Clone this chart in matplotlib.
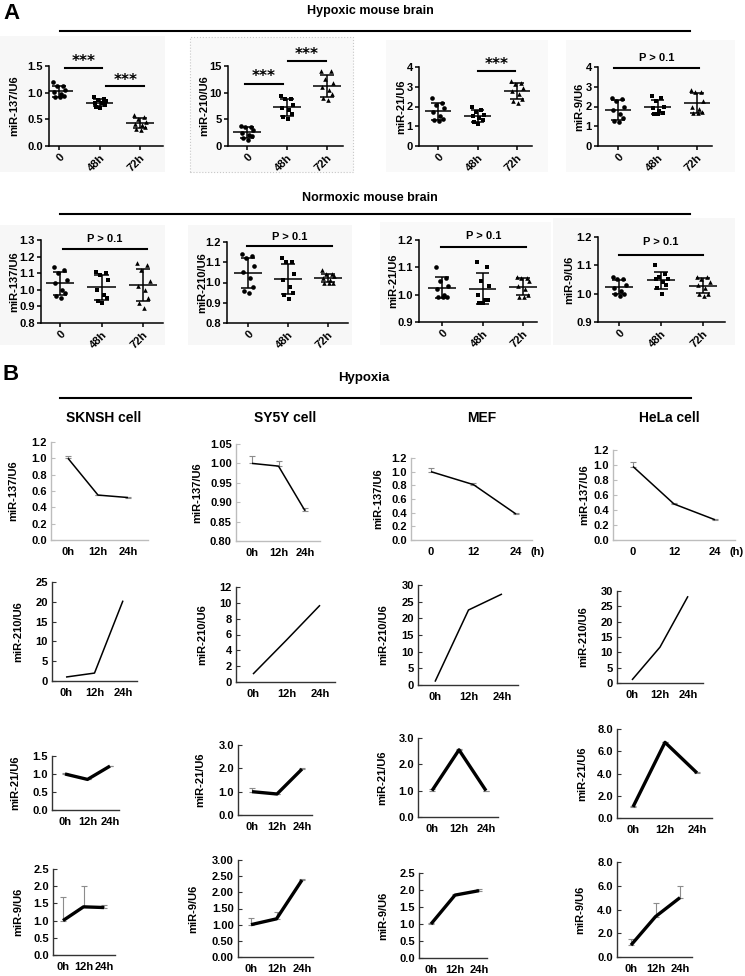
import numpy as np
import matplotlib
matplotlib.use('Agg')
import matplotlib.pyplot as plt
from matplotlib.patches import Rectangle
from matplotlib.lines import Line2D

plt.rcParams['font.family'] = ['Liberation Sans', 'DejaVu Sans']
plt.rcParams['font.weight'] = 'bold'
plt.rcParams['axes.labelweight'] = 'bold'

# ---------------- data ----------------
groups_A = ['0', '48h', '72h']
times_B = ['0h', '12h', '24h']
times_B_num = ['0', '12', '24']

# Panel A: hypoxic mouse brain (individual animals)
hyp_137 = [[1.20, 1.13, 1.12, 1.05, 1.02, 0.97, 0.93, 0.92, 0.91],
           [0.91, 0.89, 0.87, 0.84, 0.81, 0.80, 0.77, 0.74, 0.71],
           [0.58, 0.55, 0.50, 0.45, 0.42, 0.40, 0.35, 0.32, 0.30]]
hyp_210 = [[3.8, 3.6, 3.5, 3.0, 2.5, 2.0, 1.8, 1.5, 1.2],
           [9.4, 8.9, 8.8, 7.6, 7.2, 6.8, 6.0, 5.5, 5.0],
           [14.1, 14.0, 12.5, 11.8, 11.0, 10.5, 9.8, 9.0, 8.6]]
hyp_21 = [[2.45, 2.2, 2.1, 1.9, 1.7, 1.5, 1.35, 1.3, 1.25],
          [2.0, 1.8, 1.7, 1.55, 1.5, 1.4, 1.3, 1.2, 1.1],
          [3.3, 3.2, 3.15, 2.95, 2.8, 2.65, 2.4, 2.3, 2.2]]
hyp_9 = [[2.45, 2.4, 2.3, 2.0, 1.8, 1.6, 1.4, 1.25, 1.2],
         [2.55, 2.45, 2.3, 2.0, 1.9, 1.75, 1.65, 1.6, 1.6],
         [2.85, 2.75, 2.75, 2.3, 2.0, 1.85, 1.7, 1.65, 1.65]]

# Panel A: normoxic mouse brain
nor_137 = [[1.14, 1.12, 1.10, 1.06, 1.04, 1.00, 0.98, 0.96, 0.95],
           [1.11, 1.10, 1.09, 1.06, 1.00, 0.97, 0.95, 0.93, 0.92],
           [1.16, 1.15, 1.12, 1.05, 1.02, 1.00, 0.95, 0.92, 0.89]]
nor_210 = [[1.14, 1.13, 1.12, 1.08, 1.05, 1.02, 0.98, 0.96, 0.95],
           [1.12, 1.10, 1.10, 1.04, 1.01, 0.98, 0.95, 0.94, 0.92],
           [1.06, 1.04, 1.04, 1.03, 1.02, 1.01, 1.00, 1.00, 1.00]]
nor_21 = [[1.10, 1.06, 1.05, 1.03, 1.02, 1.00, 0.99, 0.99, 0.99],
          [1.12, 1.10, 1.05, 1.03, 1.00, 0.98, 0.98, 0.97, 0.97],
          [1.065, 1.06, 1.06, 1.05, 1.03, 1.02, 1.00, 0.99, 0.99]]
nor_9 = [[1.06, 1.05, 1.05, 1.03, 1.02, 1.01, 1.00, 1.00, 0.99],
         [1.10, 1.07, 1.06, 1.05, 1.05, 1.04, 1.03, 1.02, 1.00],
         [1.06, 1.06, 1.05, 1.04, 1.03, 1.02, 1.00, 1.00, 0.99]]

# Panel B: cell lines (mean, upper error)
sknsh_137 = [1.00, 0.55, 0.52]
sknsh_137_err = [0.03, 0.0, 0.01]
sy5y_137 = [1.000, 0.993, 0.878]
sy5y_137_err = [0.02, 0.012, 0.008]
mef_137 = [1.00, 0.81, 0.38]
mef_137_err = [0.05, 0.03, 0.01]
hela_137 = [0.98, 0.48, 0.27]
hela_137_err = [0.06, 0.02, 0.01]

sknsh_210 = [1.0, 2.0, 20.3]
sy5y_210 = [1.0, 5.3, 9.7]
mef_210 = [1.0, 22.5, 27.3]
hela_210 = [1.0, 11.7, 28.3]
zero_err = [0.0, 0.0, 0.0]

sknsh_21 = [1.0, 0.85, 1.22]
sknsh_21_err = [0.04, 0.0, 0.0]
sy5y_21 = [1.0, 0.9, 1.97]
sy5y_21_err = [0.17, 0.0, 0.03]
mef_21 = [1.0, 2.55, 1.0]
mef_21_err = [0.05, 0.05, 0.0]
hela_21 = [1.0, 6.8, 4.05]
hela_21_err = [0.1, 0.05, 0.05]

sknsh_9 = [1.0, 1.4, 1.38]
sknsh_9_err = [0.7, 0.6, 0.08]
sy5y_9 = [1.0, 1.18, 2.38]
sy5y_9_err = [0.2, 0.22, 0.03]
mef_9 = [1.0, 1.85, 1.98]
mef_9_err = [0.02, 0.03, 0.04]
hela_9 = [1.0, 3.4, 5.0]
hela_9_err = [0.5, 1.15, 1.0]

# ---------------- layout helpers ----------------
W, H = 745, 976
fig = plt.figure(figsize=(W / 100, H / 100), dpi=100)
fig.patch.set_facecolor('white')

JIT = [-0.14, 0.10, -0.04, 0.16, -0.12, 0.05, 0.13, -0.09, 0.02]


def add_ax(left, right, top, bottom):
    ax = fig.add_axes([left / W, 1 - bottom / H, (right - left) / W, (bottom - top) / H])
    ax.set_facecolor('none')
    return ax


def ftext(x, y, s, **kw):
    fig.text(x / W, 1 - y / H, s, **kw)


def fline(x1, x2, y, lw=1.5):
    fig.add_artist(Line2D([x1 / W, x2 / W], [1 - y / H, 1 - y / H],
                          transform=fig.transFigure, color='black', lw=lw))


def frect(x1, y1, x2, y2, fc='#f7f7f7', ec='none', ls='-'):
    fig.add_artist(Rectangle((x1 / W, 1 - y2 / H), (x2 - x1) / W, (y2 - y1) / H,
                             transform=fig.transFigure, facecolor=fc, edgecolor=ec,
                             linestyle=ls, lw=0.8, zorder=-5))


def scatter_panel(box, x0, dx, data, ylim, yticks, yfmt, ylabel, ylab_x, sigs):
    left, right, top, bottom = box
    ax = add_ax(left, right, top, bottom)
    ax.set_xlim((left - x0) / dx, (right - x0) / dx)
    ax.set_ylim(*ylim)

    def py(yp):
        return ylim[0] + (bottom - yp) / (bottom - top) * (ylim[1] - ylim[0])

    markers = ['o', 's', '^']
    for i, vals in enumerate(data):
        v = np.array(vals)
        xs = i + np.array(JIT[:len(v)])
        ax.scatter(xs, v, marker=markers[i], s=11, color='black', zorder=3,
                   linewidths=0, clip_on=False)
        m, sd = v.mean(), v.std(ddof=1)
        ax.hlines(m, i - 0.34, i + 0.34, color='black', lw=1.1, zorder=4)
        ax.vlines(i, m - sd, m + sd, color='black', lw=1.1, zorder=4)
        ax.hlines([m - sd, m + sd], i - 0.17, i + 0.17, color='black', lw=1.1, zorder=4)
    ax.set_xticks(range(3))
    ax.set_xticklabels(groups_A, rotation=45, ha='right', rotation_mode='anchor',
                       fontsize=8, fontweight='bold')
    ax.set_yticks(yticks)
    ax.set_yticklabels([yfmt.format(t) for t in yticks], fontsize=8, fontweight='bold')
    for s in ['top', 'right']:
        ax.spines[s].set_visible(False)
    for s in ['left', 'bottom']:
        ax.spines[s].set_linewidth(1.1)
    ax.tick_params(direction='out', length=3, width=1.1, pad=1.5)
    ftext(ylab_x, (top + bottom) / 2, ylabel, rotation=90, ha='center', va='center',
          fontsize=8, fontweight='bold')
    for (xa, xb, yl, lab, yt) in sigs:
        ax.plot([xa, xb], [py(yl), py(yl)], color='black', lw=1.5, clip_on=False)
        if lab == '***':
            ax.text((xa + xb) / 2, py(yt + 6), lab, ha='center', va='baseline',
                    fontsize=11, family=['DejaVu Sans'], fontweight='bold')
        else:
            ax.text((xa + xb) / 2, py(yt + 4), lab, ha='center', va='baseline',
                    fontsize=8, fontweight='bold')
    return ax


def line_panel(box, x0, dx, vals, errs, ylim, yticks, yfmt, xlabels, ylabel, ylab_x,
               lw=1.1, axcolor='#333333', hunit=None):
    left, right, top, bottom = box
    ax = add_ax(left, right, top, bottom)
    ax.set_xlim((left - x0) / dx, (right - x0) / dx)
    ax.set_ylim(*ylim)
    x = np.arange(len(vals))
    e = np.array(errs)
    if e.max() > 0:
        ax.errorbar(x, vals, yerr=[np.zeros_like(e), e], fmt='none', ecolor='#8c8c8c',
                    elinewidth=0.8, capsize=2.2, capthick=0.8, zorder=2, clip_on=False)
    ax.plot(x, vals, color='black', lw=lw, zorder=3, clip_on=False, solid_capstyle='butt')
    ax.set_xticks(x)
    ax.set_xticklabels(xlabels, fontsize=8, fontweight='bold')
    ax.set_yticks(yticks)
    ax.set_yticklabels([yfmt.format(t) for t in yticks], fontsize=8, fontweight='bold')
    for s in ['top', 'right']:
        ax.spines[s].set_visible(False)
    for s in ['left', 'bottom']:
        ax.spines[s].set_linewidth(1.0)
        ax.spines[s].set_color(axcolor)
    ax.tick_params(axis='x', length=0, pad=5)
    ax.tick_params(axis='y', direction='in', length=3, width=0.8, color=axcolor, pad=3)
    ftext(ylab_x, (top + bottom) / 2, ylabel, rotation=90, ha='center', va='center',
          fontsize=8, fontweight='bold')
    if hunit:
        ftext(hunit, bottom + 12, '(h)', ha='center', va='center', fontsize=8,
              fontweight='bold')
    return ax


# ---------------- backgrounds ----------------
frect(0, 36, 165, 172)
frect(190, 37, 353, 172, fc='#f9f9f9', ec='#c8c8c8', ls=':')
frect(386, 40, 548, 172, fc='#f9f9f9')
frect(566, 40, 735, 172, fc='#f9f9f9')
frect(0, 225, 165, 345)
frect(188, 225, 352, 345)
frect(380, 222, 551, 345, fc='#f9f9f9')
frect(553, 218, 735, 345)

# ---------------- Panel A ----------------
ftext(3, 3, 'A', fontsize=16, fontweight='bold', va='top', ha='left')
ftext(370, 11, 'Hypoxic mouse brain', fontsize=9, fontweight='bold', ha='center', va='center')
fline(60, 690, 31)

scatter_panel((49, 163, 66, 146), 59, 40.5, hyp_137, (0, 1.5), [0, 0.5, 1.0, 1.5], '{:.1f}',
              'miR-137/U6', 14, [(0.15, 1.07, 68, '***', 60), (1.17, 2.1, 86, '***', 79)])
scatter_panel((228, 343, 66, 146), 247, 40, hyp_210, (0, 15), [0, 5, 10, 15], '{:.0f}',
              'miR-210/U6', 204, [(-0.05, 0.9, 84, '***', 75), (1.02, 1.97, 61, '***', 53)])
scatter_panel((419, 532, 67, 146), 438, 39.5, hyp_21, (0, 4), [0, 1, 2, 3, 4], '{:.0f}',
              'miR-21/U6', 401, [(1.0, 1.95, 71, '***', 63)])
scatter_panel((598, 712, 67, 146), 618, 39.5, hyp_9, (0, 4), [0, 1, 2, 3, 4], '{:.0f}',
              'miR-9/U6', 579, [(-0.1, 2.05, 68, 'P > 0.1', 57)])

ftext(370, 198, 'Normoxic mouse brain', fontsize=9, fontweight='bold', ha='center', va='center')
fline(60, 690, 214)

scatter_panel((41, 163, 240, 323), 60, 41.5, nor_137, (0.8, 1.3),
              [0.8, 0.9, 1.0, 1.1, 1.2, 1.3], '{:.1f}', 'miR-137/U6', 14,
              [(0.07, 2.1, 249, 'P > 0.1', 238)])
scatter_panel((227, 348, 242, 323), 248, 40, nor_210, (0.8, 1.2),
              [0.8, 0.9, 1.0, 1.1, 1.2], '{:.1f}', 'miR-210/U6', 202,
              [(-0.03, 2.1, 246, 'P > 0.1', 236)])
scatter_panel((419, 537, 240, 322), 442, 40.5, nor_21, (0.9, 1.2),
              [0.9, 1.0, 1.1, 1.2], '{:.1f}', 'miR-21/U6', 393,
              [(-0.03, 2.08, 247, 'P > 0.1', 235)])
scatter_panel((598, 725, 237, 322), 619, 42, nor_9, (0.9, 1.2),
              [0.9, 1.0, 1.1, 1.2], '{:.1f}', 'miR-9/U6', 569,
              [(0.0, 2.0, 255, 'P > 0.1', 241)])

# ---------------- Panel B ----------------
ftext(3, 364, 'B', fontsize=16, fontweight='bold', va='top', ha='left')
ftext(364, 378, 'Hypoxia', fontsize=9.5, fontweight='bold', ha='center', va='center')
fline(60, 691, 398)
ftext(104, 418, 'SKNSH cell', fontsize=10, fontweight='bold', ha='center', va='center')
ftext(285, 418, 'SY5Y cell', fontsize=10, fontweight='bold', ha='center', va='center')
ftext(482, 418, 'MEF', fontsize=10, fontweight='bold', ha='center', va='center')
ftext(669, 418, 'HeLa cell', fontsize=10, fontweight='bold', ha='center', va='center')

light = '#bdbdbd'
# row 1: miR-137
line_panel((51, 148, 442, 540), 68, 30, sknsh_137, sknsh_137_err, (0, 1.2),
           [0, 0.2, 0.4, 0.6, 0.8, 1.0, 1.2], '{:.1f}', times_B, 'miR-137/U6', 13,
           axcolor=light)
line_panel((236, 320, 444, 541), 252, 26.5, sy5y_137, sy5y_137_err, (0.80, 1.05),
           [0.80, 0.85, 0.90, 0.95, 1.00, 1.05], '{:.2f}', times_B, 'miR-137/U6', 197,
           axcolor=light)
line_panel((411, 532, 458, 540), 431, 42.5, mef_137, mef_137_err, (0, 1.2),
           [0, 0.2, 0.4, 0.6, 0.8, 1.0, 1.2], '{:.1f}', times_B_num, 'miR-137/U6', 378,
           axcolor=light, hunit=538)
line_panel((613, 735, 450, 540), 633, 41, hela_137, hela_137_err, (0, 1.2),
           [0, 0.2, 0.4, 0.6, 0.8, 1.0, 1.2], '{:.1f}', times_B_num, 'miR-137/U6', 584,
           axcolor=light, hunit=737)

# row 2: miR-210
line_panel((52, 137, 582, 681), 66, 28.5, sknsh_210, zero_err, (0, 25),
           [0, 5, 10, 15, 20, 25], '{:.0f}', times_B, 'miR-210/U6', 18)
line_panel((236, 335, 587, 682), 253, 33.5, sy5y_210, zero_err, (0, 12),
           [0, 2, 4, 6, 8, 10, 12], '{:.0f}', times_B, 'miR-210/U6', 202)
line_panel((418, 518, 585, 685), 435, 33.5, mef_210, zero_err, (0, 30),
           [0, 5, 10, 15, 20, 25, 30], '{:.0f}', times_B, 'miR-210/U6', 383)
line_panel((617, 703, 591, 683), 632, 28, hela_210, zero_err, (0, 30),
           [0, 5, 10, 15, 20, 25, 30], '{:.0f}', times_B, 'miR-210/U6', 583)

# row 3: miR-21
line_panel((52, 119, 756, 810), 65, 22.5, sknsh_21, sknsh_21_err, (0, 1.5),
           [0, 0.5, 1.0, 1.5], '{:.1f}', times_B, 'miR-21/U6', 15, lw=2.4)
line_panel((238, 312, 745, 815), 252, 25, sy5y_21, sy5y_21_err, (0, 3),
           [0, 1, 2, 3], '{:.1f}', times_B, 'miR-21/U6', 200, lw=2.4)
line_panel((418, 498, 738, 817), 432, 27, mef_21, mef_21_err, (0, 3),
           [0, 1, 2, 3], '{:.1f}', times_B, 'miR-21/U6', 382, lw=2.4)
line_panel((617, 712, 729, 818), 633, 32, hela_21, hela_21_err, (0, 8),
           [0, 2, 4, 6, 8], '{:.1f}', times_B, 'miR-21/U6', 582, lw=2.4)

# row 4: miR-9
line_panel((53, 115, 869, 955), 63, 20.5, sknsh_9, sknsh_9_err, (0, 2.5),
           [0, 0.5, 1.0, 1.5, 2.0, 2.5], '{:.1f}', times_B, 'miR-9/U6', 18, lw=2.4)
line_panel((238, 313, 860, 957), 251, 25.5, sy5y_9, sy5y_9_err, (0, 3),
           [0, 0.5, 1.0, 1.5, 2.0, 2.5, 3.0], '{:.2f}', times_B, 'miR-9/U6', 193, lw=2.4)
line_panel((419, 487, 873, 958), 431, 24, mef_9, mef_9_err, (0, 2.5),
           [0, 0.5, 1.0, 1.5, 2.0, 2.5], '{:.1f}', times_B, 'miR-9/U6', 383, lw=2.4)
line_panel((617, 692, 862, 957), 631, 24.5, hela_9, hela_9_err, (0, 8),
           [0, 2, 4, 6, 8], '{:.1f}', times_B, 'miR-9/U6', 580, lw=2.4)

fig.savefig('out.png', dpi=100, facecolor='white')
